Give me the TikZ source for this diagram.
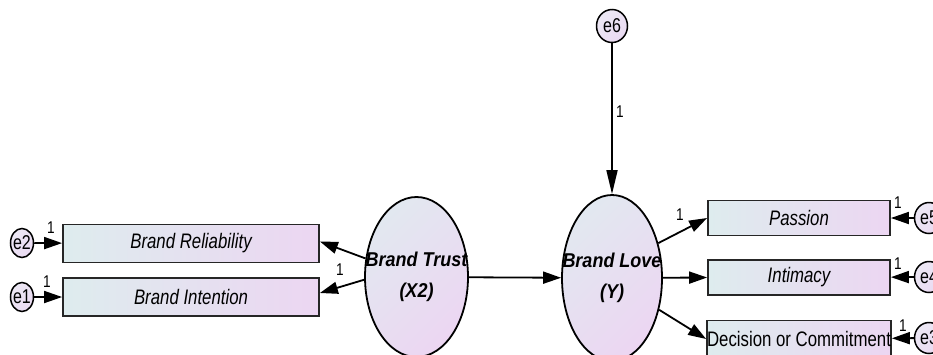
\documentclass[tikz,border=0pt]{standalone}
\usepackage{fontspec}
\setmainfont{Liberation Sans}
\newfontfamily\condfont[FakeStretch=0.80]{Liberation Sans}
\newfontfamily\latfont[FakeStretch=0.90]{Liberation Sans}
\usetikzlibrary{arrows.meta,shapes.geometric}

\definecolor{boxL}{RGB}{222,236,238}
\definecolor{boxR}{RGB}{236,214,242}
\definecolor{ellA}{RGB}{226,232,240}
\definecolor{ellB}{RGB}{236,214,242}
\definecolor{errA}{RGB}{236,232,244}
\definecolor{errB}{RGB}{234,218,242}

\tikzset{
  obsbox/.style={rectangle, draw=black!85, line width=1.8pt, inner sep=0pt,
    minimum width=#1, minimum height=38pt, left color=boxL, right color=boxR,
    font=\condfont\itshape\fontsize{21}{23}\selectfont},
  % ellipses are drawn empty; their captions are separate nodes on top
  latent/.style={ellipse, draw, line width=1.8pt, inner sep=0pt,
    minimum width=103pt, minimum height=160pt,
    top color=ellA, bottom color=ellB, shading angle=45},
  lattext/.style={inner sep=0pt, align=center,
    font=\latfont\bfseries\itshape\fontsize{20}{31}\selectfont},
  errnode/.style={ellipse, draw, line width=1.5pt, inner sep=0pt,
    minimum width=#1, minimum height=29pt,
    top color=errA, bottom color=errB, shading angle=45},
  errnode/.default=23pt,
  errtext/.style={inner sep=0pt, font=\condfont\fontsize{20}{22}\selectfont},
  path1/.style={draw, line width=1.8pt, -{Triangle[length=18pt,width=12pt]}},
  onelab/.style={font=\condfont\fontsize{17}{18}\selectfont, inner sep=0pt}
}

\begin{document}
\begin{tikzpicture}[x=1pt,y=-1pt]
  \useasboundingbox (0,0) rectangle (933,354);
  \fill[white] (0,0) rectangle (933,354);
  \clip (0,0) rectangle (933,354);

  % indicators of Brand Trust
  \node[obsbox=256pt] (BR) at (191,243.5) {Brand Reliability};
  \node[obsbox=256pt] (BI) at (191,297) {Brand Intention};
  \node[errnode] (e2) at (22,243) {};
  \node[errtext] (e2t) at (e2) {e2};
  \node[errnode] (e1) at (22,297) {};
  \node[errtext] (e1t) at (e1) {e1};

  % latent constructs
  \node[latent] (BT) at (416.5,277) {};
  \node[lattext] (BTt) at (BT) {Brand Trust\\(X2)};
  \node[latent, minimum width=100pt, minimum height=166pt] (BL) at (612,278) {};
  \node[lattext] (BLt) at (BL) {Brand Love\\(Y)};
  \node[errnode=31pt, minimum height=33pt] (e6) at (612,26) {};
  \node[errtext] (e6t) at (e6) {e6};

  % indicators of Brand Love
  \node[obsbox=182pt, minimum height=35pt] (PA) at (799,218) {Passion};
  \node[obsbox=182pt, minimum height=35pt] (IN) at (799,277.5) {Intimacy};
  \node[obsbox=182pt, minimum height=37pt, font=\condfont\fontsize{21}{23}\selectfont] (DC) at (799,339) {Decision or Commitment};
  \node[errnode=29pt, minimum height=31pt] (e5) at (929,218) {};
  \node[errtext] (e5t) at (e5) {e5};
  \node[errnode=29pt, minimum height=31pt] (e4) at (929,277) {};
  \node[errtext] (e4t) at (e4) {e4};
  \node[errnode=29pt, minimum height=31pt] (e3) at (929,338) {};
  \node[errtext] (e3t) at (e3) {e3};

  % error terms
  \draw[path1] (e2) -- (BR);
  \draw[path1] (e1) -- (BI);
  \draw[path1, -{Triangle[length=24pt,width=11pt]}] (e6) -- (BL.north);
  \draw[path1] (e5) -- (PA);
  \draw[path1] (e4) -- (IN);
  \draw[path1] (e3) -- (DC);

  % structural and measurement paths
  \draw[path1] (BT.160) -- ([yshift=2pt]BR.east);
  \draw[path1] (BT.183) -- ([yshift=4pt]BI.east);
  \draw[path1] (BT) -- (BL);
  \draw[path1] (BL.37) -- (PA.west);
  \draw[path1] (BL) -- (IN.west);
  \draw[path1] (BL.326) -- (DC.west);

  % fixed loadings
  \node[onelab] (l1) at (51,228) {1};
  \node[onelab] (l2) at (47,282) {1};
  \node[onelab] (l3) at (340,270) {1};
  \node[onelab] (l4) at (620,112) {1};
  \node[onelab] (l5) at (680,215) {1};
  \node[onelab] (l6) at (898,203) {1};
  \node[onelab] (l7) at (898,264) {1};
  \node[onelab] (l8) at (903,326) {1};
\end{tikzpicture}
\end{document}
